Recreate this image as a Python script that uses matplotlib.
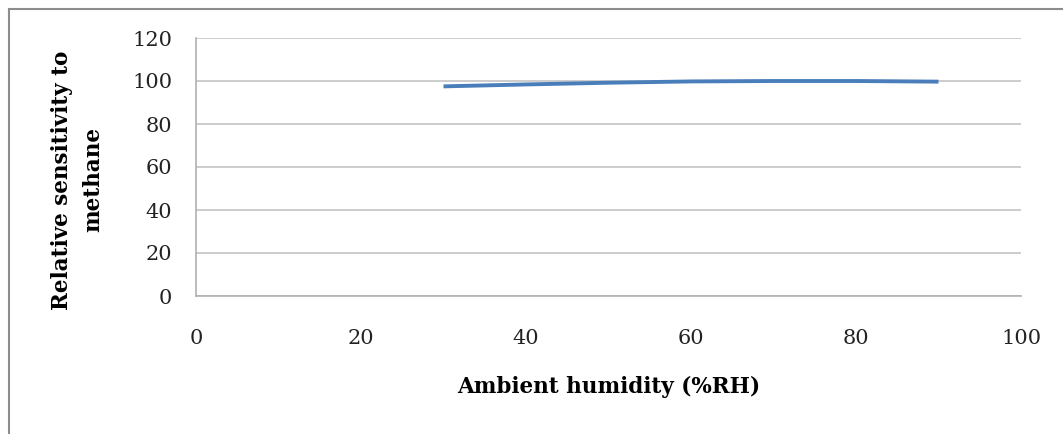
import matplotlib
matplotlib.use("Agg")
import matplotlib.pyplot as plt
from matplotlib.lines import Line2D

humidity = [30, 40, 50, 60, 70, 80, 90]
sensitivity = [97.5, 98.4, 99.2, 99.8, 100.0, 100.0, 99.7]
x_ticks = [0, 20, 40, 60, 80, 100]
y_ticks = [0, 20, 40, 60, 80, 100, 120]

plt.rcParams['font.family'] = ['DejaVu Serif']

fig = plt.figure(figsize=(10.63, 4.34), dpi=100)
ax = fig.add_axes([196/1063, 1-296/434, (1021-196)/1063, (296-38)/434])

ax.plot(humidity, sensitivity, color='#4A7EBB', lw=2.8, solid_capstyle='butt')
ax.set_xlim(0, 100)
ax.set_ylim(0, 120)
ax.set_xticks(x_ticks)
ax.set_yticks(y_ticks)
ax.grid(axis='y', color='#C4C4C4', lw=1.2)
ax.set_axisbelow(True)
for s in ['top', 'right']:
    ax.spines[s].set_visible(False)
for s in ['left', 'bottom']:
    ax.spines[s].set_color('#B0B0B0')
    ax.spines[s].set_linewidth(1.2)
ax.tick_params(axis='both', length=0, labelsize=15, colors='#222222')
ax.tick_params(axis='y', pad=17)
ax.tick_params(axis='x', pad=24)

ax.set_xlabel('Ambient humidity (%RH)', fontsize=15.5, fontweight='bold', labelpad=20)
fig.text(78/1063, 1-180/434, 'Relative sensitivity to\nmethane', rotation=90,
         ha='center', va='center', fontsize=15.5, fontweight='bold', linespacing=1.55)

# figure border (top and left)
fig.add_artist(Line2D([9/1063, 1], [1-9/434, 1-9/434], transform=fig.transFigure, color='#8C8C8C', lw=1.5))
fig.add_artist(Line2D([9/1063, 9/1063], [0, 1-9/434], transform=fig.transFigure, color='#8C8C8C', lw=1.5))

fig.savefig('out.png', dpi=100)
